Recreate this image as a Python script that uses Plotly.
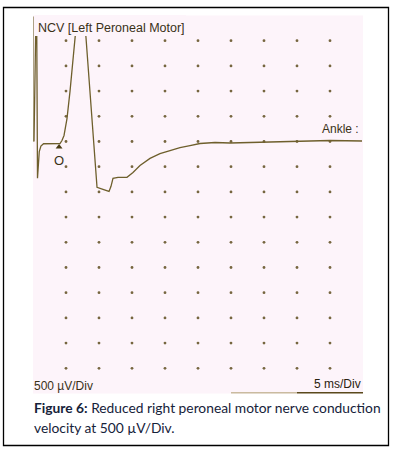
import plotly.graph_objects as go

# Waveform (time in ms, amplitude in µV; baseline = 0)
time_ms = [0.15, 0.53, 0.68, 0.80, 0.95, 1.20, 1.60, 4.09, 4.39, 4.70, 5.15, 5.61, 6.06, 6.36, 7.27,
           8.03, 8.64, 9.24, 9.70, 10.6, 11.52, 11.82, 12.12, 12.88, 14.24, 15.15, 16.21, 17.73,
           19.24, 20.76, 22.27, 23.79, 25.30, 27.58, 29.85, 32.88, 35.9, 38.94, 41.97, 45.0, 49.85]
amp_uv = [0, 3200, -730, -400, -200, -90, -45, -40, 20, 120, 455, 1000, 1600, 2000, 3300,
          2060, 910, -180, -910, -950, -990, -890, -730, -710, -710, -615, -475, -335,
          -240, -180, -120, -80, -40, -20, -30, -20, -10, 0, 10, 20, 10]

# Display grid: 10 x 5 ms, 15 x 500 µV
x_range = [0, 50]
y_range = [-5000, 2500]
grid_x = [5, 10, 15, 20, 25, 30, 35, 40, 45]
grid_y = [2000, 1500, 1000, 500, 0, -500, -1000, -1500, -2000, -2500, -3000, -3500, -4000, -4500]

title_text = "NCV [Left Peroneal Motor]"
site_label = "Ankle :"
onset_label = "O"
onset_t, onset_v = 3.95, -110
onset_label_v = -370
y_scale_text = "500 µV/Div"
x_scale_text = "5 ms/Div"
caption_bold = "Figure 6:"
caption_line1 = " Reduced right peroneal motor nerve conduction"
caption_line2 = "velocity at 500 µV/Div."

trace_col = "#6e5f2c"
text_col = "#3a3118"
bg_col = "#fdf4fa"

gx, gy = [], []
for yv in grid_y:
    for xv in grid_x:
        gx.append(xv)
        gy.append(yv)

fig = go.Figure()
fig.add_trace(go.Scatter(x=gx, y=gy, mode="markers",
                         marker=dict(size=2.8, color="#76663f", line=dict(width=0)),
                         hoverinfo="skip", showlegend=False))
fig.add_trace(go.Scatter(x=time_ms, y=amp_uv, mode="lines",
                         line=dict(color=trace_col, width=1.3), showlegend=False))
fig.add_trace(go.Scatter(x=[onset_t], y=[onset_v], mode="markers",
                         marker=dict(symbol="triangle-up", size=6, color="#4a3c14"),
                         showlegend=False))

fig.update_layout(
    width=395, height=452,
    margin=dict(l=0, r=0, t=0, b=0),
    paper_bgcolor="white",
    plot_bgcolor=bg_col,
    xaxis=dict(range=x_range, domain=[33/395, 363/395], showgrid=False, zeroline=False,
               showticklabels=False, ticks="", showline=False, fixedrange=True),
    yaxis=dict(range=y_range, domain=[(452-393.5)/452, (452-15.5)/452], showgrid=False,
               zeroline=False, showticklabels=False, ticks="", showline=False, fixedrange=True),
    shapes=[
        # outer frame
        dict(type="rect", xref="paper", yref="paper", x0=3.5/395, x1=388.5/395,
             y0=1-445.5/452, y1=1-7.5/452, line=dict(color="black", width=1.3)),
        # cover behind the header text
        dict(type="rect", xref="paper", yref="paper", x0=35/395, x1=186/395,
             y0=1-36/452, y1=1-15/452, fillcolor=bg_col, line=dict(width=0), layer="above"),
        # left edge line
        dict(type="line", xref="x", yref="y", x0=0, x1=0, y0=2480, y1=0,
             line=dict(color="#7a6a3a", width=1.2)),
        # bottom edge line (fading)
        dict(type="line", xref="x", yref="y", x0=30, x1=40, y0=-4990, y1=-4990,
             line=dict(color="#b8a880", width=1.6)),
        dict(type="line", xref="x", yref="y", x0=40, x1=50, y0=-4990, y1=-4990,
             line=dict(color="#5a4a1c", width=1.8)),
    ],
    annotations=[
        dict(text=title_text, xref="paper", yref="paper", x=36/395, y=1-28/452,
             xanchor="left", yanchor="middle", showarrow=False,
             font=dict(family="Liberation Sans", size=12.5, color=text_col)),
        dict(text=site_label, xref="paper", yref="paper", x=361/395, y=1-129/452,
             xanchor="right", yanchor="middle", showarrow=False,
             font=dict(family="Liberation Sans", size=12, color=text_col)),
        dict(text=onset_label, x=onset_t, y=onset_label_v, xref="x", yref="y", showarrow=False,
             font=dict(family="Liberation Sans", size=13, color=text_col)),
        dict(text=y_scale_text, xref="paper", yref="paper", x=32/395, y=1-386/452,
             xanchor="left", yanchor="middle", showarrow=False,
             font=dict(family="Liberation Sans", size=12, color=text_col)),
        dict(text=x_scale_text, xref="paper", yref="paper", x=363/395, y=1-384/452,
             xanchor="right", yanchor="middle", showarrow=False,
             font=dict(family="Liberation Sans", size=12, color="#2a2210")),
        dict(text="<b>" + caption_bold + "</b>" + caption_line1, xref="paper", yref="paper",
             x=32/395, y=1-407/452, xanchor="left", yanchor="middle", showarrow=False,
             font=dict(family="Lato", size=13.8, color="#16223a")),
        dict(text=caption_line2, xref="paper", yref="paper",
             x=32/395, y=1-427/452, xanchor="left", yanchor="middle", showarrow=False,
             font=dict(family="Lato", size=13.8, color="#16223a")),
    ],
)

fig.write_html("out.html")
